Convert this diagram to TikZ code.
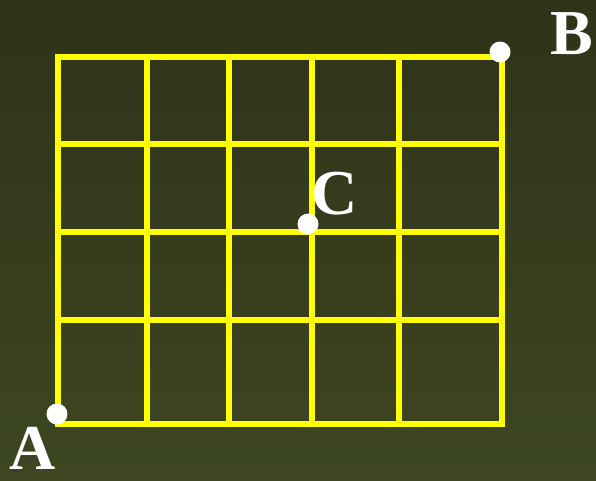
\documentclass[tikz,border=0pt]{standalone}
\usepackage{fontspec}
\setmainfont{Liberation Serif}
\definecolor{bgtop}{RGB}{47,51,25}
\definecolor{bgbot}{RGB}{61,70,33}
\definecolor{gridyellow}{RGB}{255,255,0}
\begin{document}
\begin{tikzpicture}[x=1pt,y=-1pt,
  gridline/.style={draw=gridyellow,line width=6pt},
  dot/.style={circle,fill=white,inner sep=0pt,minimum size=21pt},
  lab/.style={text=white,font=\fontsize{64}{64}\selectfont\bfseries,inner sep=0pt}]
\shade[top color=bgtop,bottom color=bgbot] (0,0) rectangle (596,480);
\useasboundingbox (0,0) rectangle (596,480);
\foreach \x in {147,229,312,399} \draw[gridline] (\x,57) -- (\x,424);
\foreach \y in {144,232,320} \draw[gridline] (58,\y) -- (502,\y);
\draw[gridline] (58,57) rectangle (502,424);
\node[dot] (A) at (57,414) {};
\node[dot] (B) at (500,52) {};
\node[dot] (C) at (308,224) {};
\node[lab] (LA) at (33,448) {A};
\node[lab] (LB) at (572,34) {B};
\node[lab] (LC) at (335,194) {C};
\end{tikzpicture}
\end{document}
